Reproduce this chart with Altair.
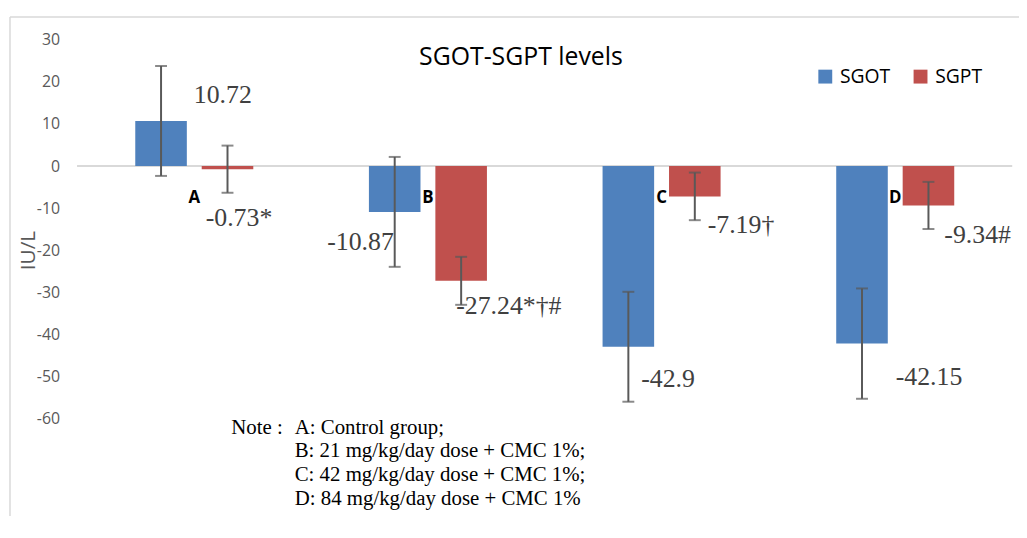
import altair as alt
import pandas as pd

# ---- data ----
groups = ["A", "B", "C", "D"]
series_names = ["SGOT", "SGPT"]
sgot_values = [10.72, -10.87, -42.9, -42.15]
sgpt_values = [-0.73, -27.24, -7.19, -9.34]
sgot_errors = [13.05, 13.05, 13.05, 13.1]
sgpt_errors = [5.6, 5.7, 5.65, 5.6]
sgot_labels = ["10.72", "-10.87", "-42.9", "-42.15"]
sgpt_labels = ["-0.73*", "-27.24*†#", "-7.19†", "-9.34#"]
y_ticks = [30, 20, 10, 0, -10, -20, -30, -40, -50, -60]
title_text = "SGOT-SGPT levels"
y_title = "IU/L"
note_prefix = "Note :"
note_lines = [
    "A: Control group;",
    "B: 21 mg/kg/day dose + CMC 1%;",
    "C: 42 mg/kg/day dose + CMC 1%;",
    "D: 84 mg/kg/day dose + CMC 1%",
]

rows = []
for s, vals, errs, labs in [
    ("SGOT", sgot_values, sgot_errors, sgot_labels),
    ("SGPT", sgpt_values, sgpt_errors, sgpt_labels),
]:
    for g, v, e, l in zip(groups, vals, errs, labs):
        rows.append({"group": g, "series": s, "value": v, "lower": v - e,
                     "upper": v + e, "label": l})
df = pd.DataFrame(rows)
gdf = pd.DataFrame({"group": groups})

# ---- styling ----
BLUE, RED = "#4F81BD", "#C0504D"
ERR = "#595959"
GRID = "#D9D9D9"
SANS = "Open Sans"
SERIF = "Liberation Serif"

# pixel offsets of each data label (manually placed in the original)
label_offsets = {
    ("A", "SGOT"): (33, -26), ("A", "SGPT"): (-22, 49),
    ("B", "SGOT"): (-68, 30), ("B", "SGPT"): (-5, 25),
    ("C", "SGOT"): (13, 33), ("C", "SGPT"): (13, 29),
    ("D", "SGOT"): (34, 34), ("D", "SGPT"): (16, 30),
}

y_scale = alt.Scale(domain=[-60, 30], nice=False, zero=False)
y_axis = alt.Axis(values=y_ticks, title=y_title, grid=False, ticks=False,
                  domain=False, labelPadding=18, labelExpr="'' + datum.value")
x_enc = alt.X("group:N", scale=alt.Scale(domain=groups, paddingInner=0, paddingOuter=0),
              axis=None)
xo_enc = alt.XOffset("series:N", scale=alt.Scale(domain=series_names,
                                                 paddingInner=0.224, paddingOuter=0.87))

base = alt.Chart(df)

zero_rule = alt.Chart(gdf).mark_rule(color=GRID, strokeWidth=2).encode(
    y=alt.datum(0, scale=y_scale, axis=y_axis))

bars = base.mark_bar().encode(
    x=x_enc, xOffset=xo_enc,
    y=alt.Y("value:Q", scale=y_scale, axis=y_axis),
    color=alt.Color("series:N",
                    scale=alt.Scale(domain=series_names, range=[BLUE, RED]),
                    legend=alt.Legend(title=None, orient="none", legendX=744, legendY=27,
                                      direction="horizontal", symbolType="square",
                                      symbolSize=196, symbolStrokeWidth=0,
                                      labelFont=SANS, labelFontSize=19.5,
                                      labelColor="#000000", labelOffset=5,
                                      columnPadding=20, padding=0)),
)

err_lines = base.mark_rule(color=ERR, strokeWidth=2).encode(
    x=x_enc, xOffset=xo_enc,
    y=alt.Y("lower:Q", scale=y_scale, axis=y_axis), y2="upper:Q")
cap_low = base.mark_tick(color=ERR, thickness=2, size=12, orient="horizontal").encode(
    x=x_enc, xOffset=xo_enc, y=alt.Y("lower:Q", scale=y_scale, axis=y_axis))
cap_high = base.mark_tick(color=ERR, thickness=2, size=12, orient="horizontal").encode(
    x=x_enc, xOffset=xo_enc, y=alt.Y("upper:Q", scale=y_scale, axis=y_axis))

label_layers = []
for (g, s), (dx, dy) in label_offsets.items():
    label_layers.append(
        base.transform_filter(
            (alt.datum.group == g) & (alt.datum.series == s)
        ).mark_text(font=SERIF, fontSize=26, color="#404040", align="left",
                    baseline="middle", dx=dx, dy=dy).encode(
            x=x_enc, xOffset=xo_enc,
            y=alt.Y("value:Q", scale=y_scale, axis=y_axis),
            text="label:N")
    )

letters = alt.Chart(gdf).mark_text(font=SANS, fontSize=17, fontWeight="bold",
                                   color="#000000", align="center", baseline="middle",
                                   dy=32).encode(
    x=x_enc, y=alt.datum(0, scale=y_scale, axis=y_axis), text="group:N")

title = alt.Chart(gdf).transform_filter(alt.datum.group == groups[0]).mark_text(
    font=SANS, fontSize=25, color="#000000", align="center", baseline="middle").encode(
    x=alt.value(447), y=alt.value(17), text=alt.value(title_text))

note_a = alt.Chart(gdf).transform_filter(alt.datum.group == groups[0]).mark_text(
    font=SERIF, fontSize=21, color="#000000", align="left", baseline="top").encode(
    x=alt.value(155), y=alt.value(380), text=alt.value(note_prefix))
note_b = alt.Chart(gdf).transform_filter(alt.datum.group == groups[0]).mark_text(
    font=SERIF, fontSize=21, color="#000000", align="left", baseline="top",
    lineHeight=24).encode(
    x=alt.value(219), y=alt.value(380), text=alt.value(note_lines))

frame_top = alt.Chart(gdf).transform_filter(alt.datum.group == groups[0]).mark_rule(
    color=GRID, strokeWidth=1.5).encode(
    x=alt.value(-68), x2=alt.value(960), y=alt.value(-23))
frame_left = alt.Chart(gdf).transform_filter(alt.datum.group == groups[0]).mark_rule(
    color=GRID, strokeWidth=1.5).encode(
    x=alt.value(-68), y=alt.value(-23), y2=alt.value(480))

chart = alt.layer(
    frame_top, frame_left, zero_rule, bars, err_lines, cap_low, cap_high,
    *label_layers, letters, title, note_a, note_b,
).properties(
    width=942, height=382,
    autosize=alt.AutoSizeParams(type="none"),
    padding={"left": 70, "top": 30, "right": 7, "bottom": 100},
).configure_view(stroke=None).configure_axis(
    labelFont=SANS, labelFontSize=16, labelColor="#595959",
    titleFont=SANS, titleFontSize=21, titleColor="#595959", titleFontWeight="normal",
    titleX=-49, titleY=212, titleAngle=270, titleAlign="center", titleBaseline="middle",
)

chart.save("out.html", embed_options={"renderer": "svg", "actions": False})
